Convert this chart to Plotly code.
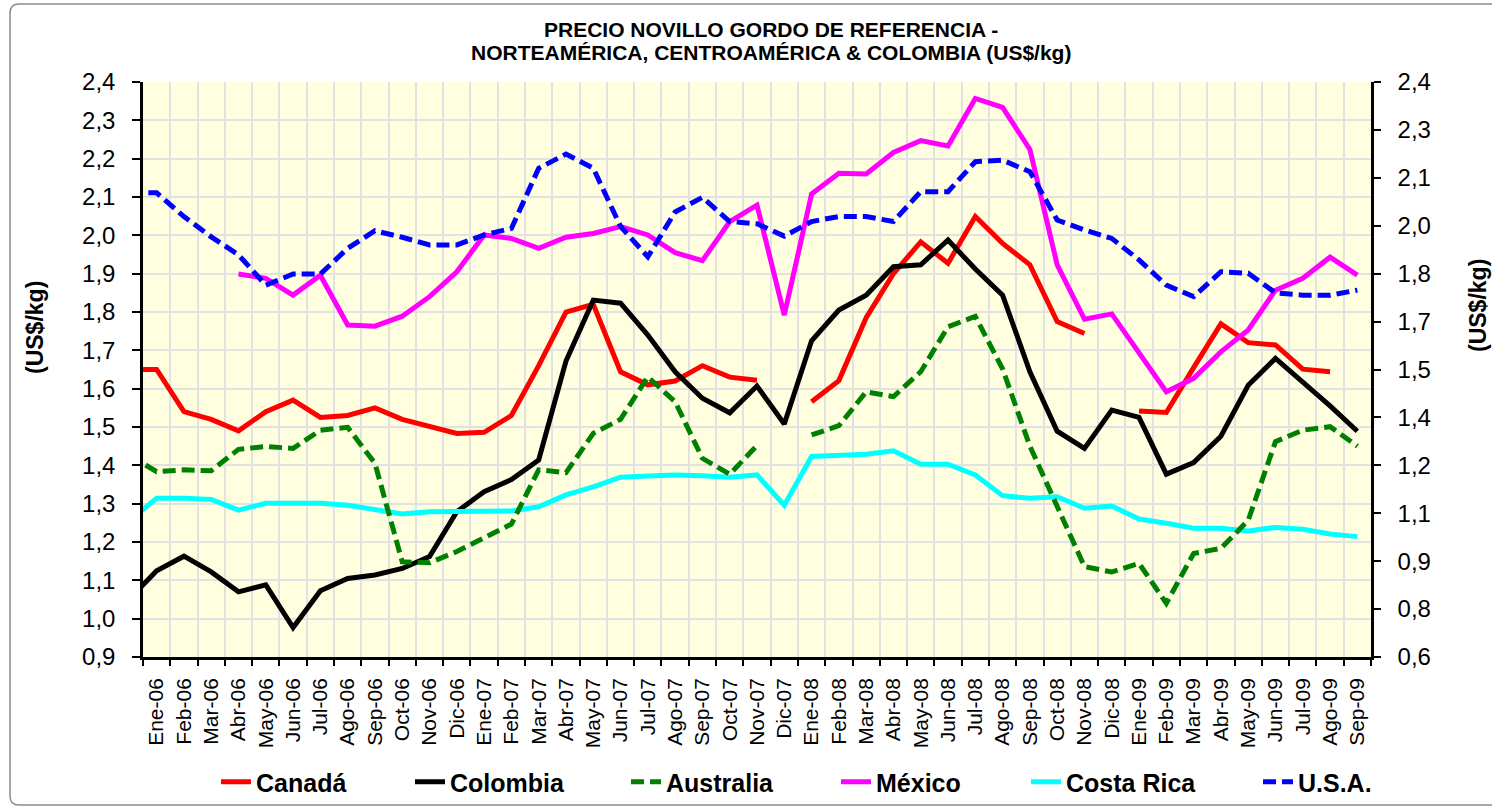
import plotly.graph_objects as go

# ---------------- DATA ----------------
# first category (Dic-05) lies just outside the visible range; its line segment is clipped at the axis
months = ["Dic-05",
          "Ene-06", "Feb-06", "Mar-06", "Abr-06", "May-06", "Jun-06", "Jul-06", "Ago-06", "Sep-06", "Oct-06", "Nov-06", "Dic-06",
          "Ene-07", "Feb-07", "Mar-07", "Abr-07", "May-07", "Jun-07", "Jul-07", "Ago-07", "Sep-07", "Oct-07", "Nov-07", "Dic-07",
          "Ene-08", "Feb-08", "Mar-08", "Abr-08", "May-08", "Jun-08", "Jul-08", "Ago-08", "Sep-08", "Oct-08", "Nov-08", "Dic-08",
          "Ene-09", "Feb-09", "Mar-09", "Abr-09", "May-09", "Jun-09", "Jul-09", "Ago-09", "Sep-09"]

canada = [1.65,
          1.65, 1.54, 1.52, 1.49, 1.54, 1.57, 1.525, 1.53, 1.55, 1.52, 1.50, 1.483,
          1.486, 1.53, 1.66, 1.80, 1.82, 1.644, 1.61, 1.62, 1.66, 1.63, 1.622, None,
          1.566, 1.621, 1.785, 1.90, 1.983, 1.927, 2.049, 1.979, 1.923, 1.775, 1.744, None,
          1.542, 1.538, 1.655, 1.769, 1.72, 1.714, 1.651, 1.644, None]

colombia = [1.051,
            1.125, 1.163, 1.122, 1.07, 1.088, 0.977, 1.073, 1.105, 1.114, 1.131, 1.162, 1.279,
            1.331, 1.363, 1.414, 1.672, 1.831, 1.823, 1.74, 1.644, 1.575, 1.537, 1.607, 1.508,
            1.725, 1.805, 1.844, 1.918, 1.923, 1.988, 1.912, 1.844, 1.644, 1.489, 1.444, 1.544,
            1.525, 1.377, 1.407, 1.476, 1.609, 1.679, 1.618, 1.555, 1.489]

# Australia is plotted against the right-hand axis
australia = [1.232,
             1.180, 1.186, 1.183, 1.250, 1.259, 1.253, 1.310, 1.319, 1.206, 0.898, 0.895, 0.930,
             0.971, 1.016, 1.186, 1.177, 1.300, 1.344, 1.477, 1.399, 1.222, 1.172, 1.262, None,
             1.295, 1.324, 1.430, 1.415, 1.493, 1.634, 1.666, 1.502, 1.260, 1.068, 0.883, 0.866,
             0.893, 0.768, 0.924, 0.940, 1.028, 1.274, 1.310, 1.321, 1.260]

mexico = [None,
          None, None, None, 1.899, 1.888, 1.844, 1.896, 1.766, 1.763, 1.789, 1.84, 1.905,
          2.001, 1.992, 1.966, 1.995, 2.005, 2.023, 2.001, 1.955, 1.934, 2.036, 2.079, 1.792,
          2.108, 2.162, 2.16, 2.216, 2.247, 2.233, 2.357, 2.334, 2.224, 1.923, 1.781, 1.795,
          1.692, 1.592, 1.627, 1.696, 1.753, 1.857, 1.888, 1.943, 1.896]

costa_rica = [1.256,
              1.314, 1.314, 1.311, 1.283, 1.301, 1.301, 1.301, 1.296, 1.285, 1.273, 1.279, 1.279,
              1.281, 1.281, 1.292, 1.323, 1.344, 1.369, 1.372, 1.375, 1.373, 1.369, 1.375, 1.296,
              1.423, 1.427, 1.429, 1.438, 1.403, 1.403, 1.375, 1.321, 1.314, 1.318, 1.288, 1.294,
              1.26, 1.249, 1.236, 1.236, 1.229, 1.238, 1.233, 1.221, 1.214]

usa = [2.111,
       2.111, 2.049, 1.996, 1.949, 1.87, 1.899, 1.899, 1.966, 2.012, 1.995, 1.975, 1.975,
       2.001, 2.018, 2.175, 2.212, 2.175, 2.023, 1.944, 2.061, 2.099, 2.036, 2.030, 1.998,
       2.036, 2.049, 2.049, 2.036, 2.114, 2.114, 2.192, 2.196, 2.166, 2.04, 2.014, 1.992,
       1.936, 1.87, 1.84, 1.905, 1.901, 1.85, 1.844, 1.844, 1.857]

right_tickvals = [0.6, 0.75, 0.9, 1.05, 1.2, 1.35, 1.5, 1.65, 1.8, 1.95, 2.1, 2.25, 2.4]
right_ticktext = ["0,6", "0,8", "0,9", "1,1", "1,2", "1,4", "1,5", "1,7", "1,8", "2,0", "2,1", "2,3", "2,4"]

title_line1 = "PRECIO NOVILLO GORDO DE REFERENCIA -"
title_line2 = "NORTEAMÉRICA, CENTROAMÉRICA & COLOMBIA (US$/kg)"
axis_title = "(US$/kg)"

# ---------------- LAYOUT HELPERS ----------------
W, H = 1492, 807
L, R, T, B = 143, 1371, 82, 657
PW, PH = R - L, B - T


def px(xp):
    return (xp - L) / PW


def py(yp):
    return (B - yp) / PH


FONT = "Liberation Sans, Arial, sans-serif"

fig = go.Figure()

series = [
    ("Canadá", canada, "#FF0000", "solid", "y", "legend", 256),
    ("Colombia", colombia, "#000000", "solid", "y", "legend2", 450),
    ("Australia", australia, "#008000", "13px,6px", "y2", "legend3", 666),
    ("México", mexico, "#FF00FF", "solid", "y", "legend4", 876),
    ("Costa Rica", costa_rica, "#00FFFF", "solid", "y", "legend5", 1066),
    ("U.S.A.", usa, "#0000FF", "13px,6px", "y", "legend6", 1298),
]

legends = {}
for name, vals, color, dash, yax, leg, text_x in series:
    fig.add_trace(go.Scatter(
        x=months, y=vals, name=name, mode="lines", yaxis=yax, legend=leg,
        line=dict(color=color, width=5, dash=dash), connectgaps=False,
    ))
    legends[leg] = dict(
        x=px(text_x - 40), y=py(782), xanchor="left", yanchor="middle",
        orientation="h", bgcolor="rgba(0,0,0,0)", borderwidth=0,
        font=dict(family=FONT, size=25, color="#000000", weight="bold"),
        itemwidth=30,
    )

grid = "#E2E2E2"
fig.update_layout(
    width=W, height=H,
    margin=dict(l=L, r=W - R, t=T, b=H - B, autoexpand=False),
    paper_bgcolor="#FFFFFF",
    plot_bgcolor="#FFFFE0",
    separators=",.",
    font=dict(family=FONT, color="#000000"),
    showlegend=True,
    xaxis=dict(
        type="category", range=[0.5, len(months) - 0.5], tickson="boundaries",
        showgrid=True, gridcolor=grid, gridwidth=1.5,
        showline=True, linecolor="#000000", linewidth=2.5,
        ticks="outside", ticklen=6, tickwidth=1.5, tickcolor="#000000",
        tickangle=-90, tickfont=dict(family=FONT, size=21, color="#000000"),
        ticklabelstandoff=10, automargin=False, zeroline=False,
    ),
    yaxis=dict(
        range=[0.9, 2.4], dtick=0.1, tick0=0.9, tickformat=".1f",
        showgrid=True, gridcolor=grid, gridwidth=1.5,
        showline=True, linecolor="#000000", linewidth=2.5,
        ticks="outside", ticklen=8, tickwidth=1.5, tickcolor="#000000",
        tickfont=dict(family=FONT, size=24, color="#000000"),
        ticklabelstandoff=12, automargin=False, zeroline=False,
    ),
    yaxis2=dict(
        range=[0.6, 2.4], overlaying="y", side="right",
        tickvals=right_tickvals, ticktext=right_ticktext,
        showgrid=False, showline=True, linecolor="#000000", linewidth=2.5,
        ticks="outside", ticklen=7, tickwidth=1.5, tickcolor="#000000",
        tickfont=dict(family=FONT, size=24, color="#000000"),
        ticklabelstandoff=12, automargin=False, zeroline=False,
    ),
    yaxis3=dict(
        range=[0.6, 2.4], overlaying="y", side="right",
        tickvals=right_tickvals, showticklabels=False,
        showgrid=False, showline=False,
        ticks="inside", ticklen=7, tickwidth=1.5, tickcolor="#000000",
        automargin=False, zeroline=False,
    ),
    **legends,
)

# outer chart border with rounded left corners (right edge lies outside the picture)
x0, x1, y0, y1, r = px(10), px(1700), py(4), py(805), 9
rx, ry = r / PW, r / PH
border = (f"M {x1},{y0} L {x0 + rx},{y0} Q {x0},{y0} {x0},{y0 - ry} "
          f"L {x0},{y1 + ry} Q {x0},{y1} {x0 + rx},{y1} L {x1},{y1}")
fig.add_shape(type="path", path=border, xref="paper", yref="paper",
              line=dict(color="#8C8C8C", width=1.5), fillcolor="rgba(0,0,0,0)", layer="below")

tfont = dict(family=FONT, size=21, color="#000000", weight="bold")
fig.add_annotation(text=title_line1, x=px(771), y=py(29), xref="paper", yref="paper",
                   showarrow=False, xanchor="center", yanchor="middle", font=tfont)
fig.add_annotation(text=title_line2, x=px(771), y=py(53), xref="paper", yref="paper",
                   showarrow=False, xanchor="center", yanchor="middle", font=tfont)
afont = dict(family=FONT, size=23, color="#000000", weight="bold")
fig.add_annotation(text=axis_title, x=px(35), y=py(328), xref="paper", yref="paper",
                   showarrow=False, textangle=-90, xanchor="center", yanchor="middle", font=afont)
fig.add_annotation(text=axis_title, x=px(1478), y=py(306), xref="paper", yref="paper",
                   showarrow=False, textangle=-90, xanchor="center", yanchor="middle", font=afont)

# remove the page's default body margin so the figure sits at the window's top-left corner
fig.write_html("out.html",
               config={"displayModeBar": False},
               post_script="document.body.style.margin='0';document.body.style.overflow='hidden';")
